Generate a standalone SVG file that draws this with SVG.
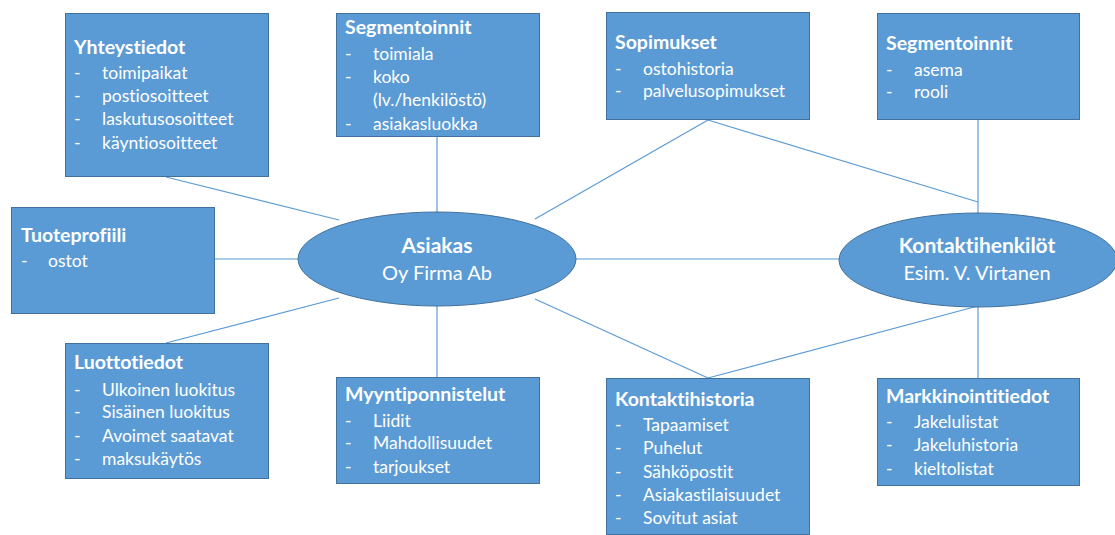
<svg xmlns="http://www.w3.org/2000/svg" width="1115" height="535" viewBox="0 0 1115 535">
<style>
.box{fill:#5B9BD5;stroke:#41719C;stroke-width:1}
.ell{fill:#5B9BD5;stroke:#41719C;stroke-width:1}
.conn line{stroke:#5B9BD5;stroke-width:1.2}
text{font-family:Lato,"Open Sans","Liberation Sans",sans-serif;fill:#fff;font-variant-ligatures:none}
.t{font-size:19.5px;font-weight:bold}
.i{font-size:17.5px}
.c{text-anchor:middle}
.e{font-size:20px}
.et{font-size:21px;font-weight:bold}
</style>
<rect width="1115" height="535" fill="#fff"/>
<g id="connectors" class="conn">
<line x1="166" y1="177" x2="339" y2="220"/>
<line x1="437" y1="136" x2="437" y2="212"/>
<line x1="708" y1="120" x2="535" y2="219"/>
<line x1="708" y1="120" x2="978" y2="202"/>
<line x1="978" y1="120" x2="978" y2="213"/>
<line x1="214" y1="259" x2="299" y2="259"/>
<line x1="576" y1="259" x2="839" y2="259"/>
<line x1="166" y1="343" x2="339" y2="298"/>
<line x1="437" y1="305" x2="437" y2="377"/>
<line x1="708" y1="378" x2="535" y2="299"/>
<line x1="708" y1="378" x2="978" y2="306"/>
<line x1="978" y1="306" x2="978" y2="378"/>
</g>
<g id="yhteystiedot">
<rect class="box" x="65.5" y="13.5" width="203" height="163"/>
<text class="t" x="74" y="54">Yhteystiedot</text>
<text class="i" x="74" y="79">-</text><text class="i" x="102" y="79">toimipaikat</text>
<text class="i" x="74" y="102">-</text><text class="i" x="102" y="102">postiosoitteet</text>
<text class="i" x="74" y="125">-</text><text class="i" x="102" y="125">laskutusosoitteet</text>
<text class="i" x="74" y="149">-</text><text class="i" x="102" y="149">käyntiosoitteet</text>
</g>
<g id="segmentoinnit1">
<rect class="box" x="336.5" y="13.5" width="203" height="123"/>
<text class="t" x="345" y="34">Segmentoinnit</text>
<text class="i" x="345" y="60">-</text><text class="i" x="373" y="60">toimiala</text>
<text class="i" x="345" y="83">-</text><text class="i" x="373" y="83">koko</text>
<text class="i" x="373" y="106">(lv./henkilöstö)</text>
<text class="i" x="345" y="130">-</text><text class="i" x="373" y="130">asiakasluokka</text>
</g>
<g id="sopimukset">
<rect class="box" x="606.5" y="12.5" width="203" height="107"/>
<text class="t" x="615" y="49">Sopimukset</text>
<text class="i" x="615" y="75">-</text><text class="i" x="643" y="75">ostohistoria</text>
<text class="i" x="615" y="97">-</text><text class="i" x="643" y="97">palvelusopimukset</text>
</g>
<g id="segmentoinnit2">
<rect class="box" x="877.5" y="13.5" width="202" height="106"/>
<text class="t" x="886" y="50">Segmentoinnit</text>
<text class="i" x="886" y="76">-</text><text class="i" x="914" y="76">asema</text>
<text class="i" x="886" y="98">-</text><text class="i" x="914" y="98">rooli</text>
</g>
<g id="tuoteprofiili">
<rect class="box" x="11.5" y="207.5" width="203" height="106"/>
<text class="t" x="21" y="242">Tuoteprofiili</text>
<text class="i" x="21" y="267">-</text><text class="i" x="48" y="267">ostot</text>
</g>
<g id="asiakas">
<ellipse class="ell" cx="437" cy="259" rx="139" ry="47"/>
<text class="et c" x="437" y="253">Asiakas</text>
<text class="e c" x="437" y="280">Oy Firma Ab</text>
</g>
<g id="kontaktihenkilot">
<ellipse class="ell" cx="978" cy="260" rx="139" ry="47"/>
<text class="et c" x="977" y="253">Kontaktihenkilöt</text>
<text class="e c" x="977" y="280">Esim. V. Virtanen</text>
</g>
<g id="luottotiedot">
<rect class="box" x="65.5" y="343.5" width="203" height="135"/>
<text class="t" x="74" y="369">Luottotiedot</text>
<text class="i" x="74" y="396">-</text><text class="i" x="102" y="396">Ulkoinen luokitus</text>
<text class="i" x="74" y="418">-</text><text class="i" x="102" y="418">Sisäinen luokitus</text>
<text class="i" x="74" y="442">-</text><text class="i" x="102" y="442">Avoimet saatavat</text>
<text class="i" x="74" y="465">-</text><text class="i" x="102" y="465">maksukäytös</text>
</g>
<g id="myyntiponnistelut">
<rect class="box" x="336.5" y="377.5" width="203" height="106"/>
<text class="t" x="345" y="401">Myyntiponnistelut</text>
<text class="i" x="345" y="427">-</text><text class="i" x="373" y="427">Liidit</text>
<text class="i" x="345" y="449">-</text><text class="i" x="373" y="449">Mahdollisuudet</text>
<text class="i" x="345" y="473">-</text><text class="i" x="373" y="473">tarjoukset</text>
</g>
<g id="kontaktihistoria">
<rect class="box" x="606.5" y="378.5" width="203" height="156"/>
<text class="t" x="615" y="406">Kontaktihistoria</text>
<text class="i" x="615" y="431">-</text><text class="i" x="643" y="431">Tapaamiset</text>
<text class="i" x="615" y="454">-</text><text class="i" x="643" y="454">Puhelut</text>
<text class="i" x="615" y="478">-</text><text class="i" x="643" y="478">Sähköpostit</text>
<text class="i" x="615" y="501">-</text><text class="i" x="643" y="501">Asiakastilaisuudet</text>
<text class="i" x="615" y="524">-</text><text class="i" x="643" y="524">Sovitut asiat</text>
</g>
<g id="markkinointitiedot">
<rect class="box" x="877.5" y="378.5" width="202" height="107"/>
<text class="t" x="886" y="403">Markkinointitiedot</text>
<text class="i" x="886" y="428">-</text><text class="i" x="914" y="428">Jakelulistat</text>
<text class="i" x="886" y="451">-</text><text class="i" x="914" y="451">Jakeluhistoria</text>
<text class="i" x="886" y="475">-</text><text class="i" x="914" y="475">kieltolistat</text>
</g>
</svg>
